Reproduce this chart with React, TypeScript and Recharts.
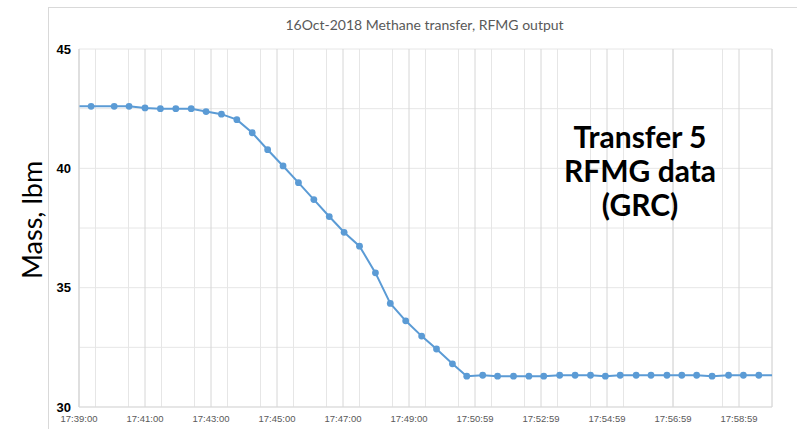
import { LineChart, Line, XAxis, YAxis, CartesianGrid } from "recharts"

// seconds after 17:39:00 (first and last sit just outside the axis)
const times = [
  -6, 22, 64, 91, 120, 148, 176, 204, 231, 259, 287, 315, 343, 371, 399, 427, 455, 482, 510, 539, 566, 594,
  623, 650, 679, 705, 734, 761, 790, 818, 845, 874, 902, 930, 957, 984, 1013, 1040, 1069, 1096, 1123, 1151,
  1181, 1208, 1236, 1264,
]
const mass = [
  42.6, 42.6, 42.6, 42.6, 42.53, 42.5, 42.5, 42.5, 42.38, 42.27, 42.04, 41.49, 40.78, 40.1, 39.4, 38.69, 37.98,
  37.32, 36.74, 35.62, 34.34, 33.61, 32.97, 32.43, 31.81, 31.29, 31.33, 31.29, 31.29, 31.29, 31.29, 31.33, 31.33,
  31.33, 31.29, 31.33, 31.33, 31.33, 31.33, 31.33, 31.33, 31.29, 31.33, 31.33, 31.33, 31.33,
]

const xTicks = [0, 120, 240, 360, 480, 600, 720, 840, 960, 1080, 1200]
const xTickLabels = [
  "17:39:00", "17:41:00", "17:43:00", "17:45:00", "17:47:00", "17:49:00",
  "17:50:59", "17:52:59", "17:54:59", "17:56:59", "17:58:59",
]
const xMinorTicks = Array.from({ length: 43 }, (_, i) => i * 30)
const yTicks = [30, 35, 40, 45]
const yMinorTicks = [30, 32.5, 35, 37.5, 40, 42.5, 45]

const data = times.map((t, i) => ({ t, mass: mass[i] }))

const BLUE = "#5B9BD5"

const Dot = (props: any) => {
  const { cx, cy, payload, index } = props
  if (payload.t < 0 || payload.t > 1260) return <g key={index} />
  return <circle key={index} cx={cx} cy={cy} r={3.4} fill={BLUE} stroke="none" />
}

export default function App() {
  return (
    <div style={{ position: "absolute", left: 0, top: 0, width: 797, height: 429, overflow: "hidden", background: "#fff" }}>
      <div style={{ position: "absolute", left: 48, top: 7, width: 800, height: 440, border: "1px solid #d9d9d9" }} />
      <div
        style={{
          position: "absolute", left: 0, top: 16, width: 849, textAlign: "center",
          fontFamily: "Lato", fontSize: 14, lineHeight: "18px", color: "#595959", whiteSpace: "nowrap",
        }}
      >
        16Oct-2018 Methane transfer, RFMG output
      </div>
      <div style={{ position: "absolute", left: 0, top: 0 }}>
        <LineChart width={797} height={429} data={data} margin={{ top: 49, right: 25, bottom: 2, left: 49 }}>
          <XAxis
            xAxisId="minor"
            orientation="top"
            dataKey="t"
            type="number"
            domain={[0, 1260]}
            ticks={xMinorTicks}
            allowDataOverflow
            hide
          />
          <XAxis
            xAxisId="t"
            dataKey="t"
            type="number"
            domain={[0, 1260]}
            ticks={xTicks}
            allowDataOverflow
            interval={0}
            height={20}
            tickFormatter={(v: number) => xTickLabels[xTicks.indexOf(v)] ?? ""}
            tick={{ fontFamily: "Liberation Sans", fontSize: 9.5, fill: "#595959" }}
            tickLine={false}
            axisLine={{ stroke: "#d9d9d9" }}
          />
          <YAxis
            yAxisId="m"
            type="number"
            domain={[30, 45]}
            ticks={yMinorTicks}
            interval={0}
            allowDataOverflow
            width={30}
            tickFormatter={(v: number) => (yTicks.includes(v) ? String(v) : "")}
            tick={{ fontFamily: "Liberation Sans", fontSize: 13, fontWeight: 700, fill: "#000" }}
            tickLine={false}
            axisLine={{ stroke: "#d9d9d9" }}
          />
          <CartesianGrid xAxisId="minor" yAxisId="m" stroke="#e6e6e6" strokeWidth={1} />
          <CartesianGrid xAxisId="t" yAxisId="m" horizontal={false} stroke="#d6d6d6" strokeWidth={1} />
          <Line
            xAxisId="t"
            yAxisId="m"
            dataKey="mass"
            type="linear"
            stroke={BLUE}
            strokeWidth={2}
            dot={Dot}
            activeDot={false}
            isAnimationActive={false}
          />
        </LineChart>
      </div>
      <div
        style={{
          position: "absolute", left: 31, top: 220, transform: "translate(-50%, -50%) rotate(-90deg)",
          fontFamily: "Lato", fontSize: 27, color: "#000", whiteSpace: "nowrap",
        }}
      >
        Mass, lbm
      </div>
      <div
        style={{
          position: "absolute", left: 540, top: 119, width: 200, textAlign: "center",
          fontFamily: "Lato", fontSize: 30, fontWeight: 700, lineHeight: "34px", color: "#000",
        }}
      >
        Transfer 5
        <br />
        RFMG data
        <br />
        (GRC)
      </div>
    </div>
  )
}
